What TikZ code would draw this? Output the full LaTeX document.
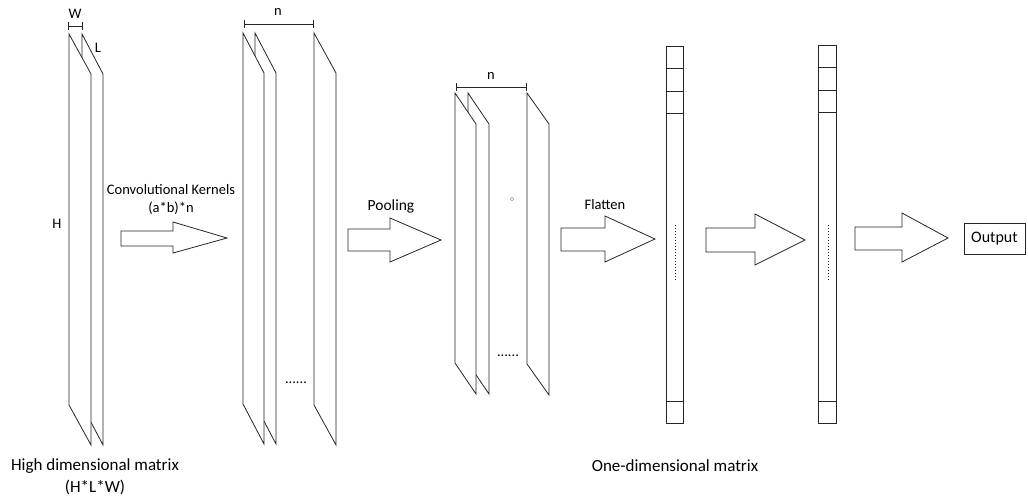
\documentclass[tikz,border=0pt]{standalone}
\usepackage{fontspec}
\setmainfont{Carlito}
\newcommand\myslab[5]{\draw[slab] (#1,#2) -- ++(#4,#5) -- ++(0,#3) -- ++(-#4,-#5) -- cycle;}
\newcommand\blockarrow[8]{\draw[barrow] (#1,#4) -- (#2,#4) -- (#2,#6) -- (#3,#8) -- (#2,#7) -- (#2,#5) -- (#1,#5) -- cycle;}
\begin{document}
\begin{tikzpicture}[x=1pt,y=-1pt,line width=0.8pt,
  slab/.style={draw=black!85,fill=white},
  barrow/.style={draw=black!85,fill=white},
  col/.style={draw=black!85,fill=white},
  lbl/.style={font=\fontsize{14.5}{17}\selectfont,inner sep=0pt,text=black},
  blbl/.style={font=\fontsize{17}{20}\selectfont,inner sep=0pt,text=black},
  brk/.style={draw=black!85,line width=0.9pt}]
\useasboundingbox (0,0) rectangle (1028,496);
% group 1
\myslab{82}{34}{371}{21}{40}
\myslab{69}{34}{371}{22}{40}
\draw[brk] (68,26) -- (82,26) (68,22) -- (68,30) (82,22) -- (82,30);
\node[lbl] (w) at (75,14) {W};
\node[lbl] (l) at (98,48) {L};
\node[lbl] (h) at (57,224) {H};
% group 2
\myslab{255}{33}{371}{21}{40}
\myslab{243}{33}{371}{21}{40}
\myslab{314}{33}{372}{22}{40}
\draw[brk] (244,24) -- (313,24) (244,20) -- (244,28) (313,20) -- (313,28);
\node[lbl] (n1) at (278,12) {n};
\node[lbl] (d1) at (296,383) {......};
% group 3
\myslab{468}{93}{270}{21}{31}
\myslab{455}{93}{270}{21}{31}
\myslab{527}{93}{271}{22}{31}
\draw[brk] (456,87) -- (526,87) (456,83) -- (456,91) (526,83) -- (526,91);
\node[lbl] (n2) at (491,76) {n};
\node[lbl] (d2) at (508,356) {......};
\draw[black!40,line width=0.5pt] (512,199) circle (1.8);
% column 1
\draw[col] (666,46) rectangle (683,423);
\draw[black!85] (666,68) -- (683,68) (666,91) -- (683,91) (666,113) -- (683,113) (666,401) -- (683,401);
\draw[black!85,line width=1pt,dash pattern=on 1pt off 2pt] (675,225) -- (675,280);
% column 2
\draw[col] (818,45) rectangle (836,423);
\draw[black!85] (818,67) -- (836,67) (818,90) -- (836,90) (818,112) -- (836,112) (818,401) -- (836,401);
\draw[black!85,line width=1pt,dash pattern=on 1pt off 2pt] (828,225) -- (828,280);
% arrows
\blockarrow{121}{173}{227}{231}{246}{222}{253}{238}
\blockarrow{348}{390}{441}{229}{251}{218}{262}{240}
\blockarrow{561}{605}{655}{228}{251}{216}{262}{239}
\blockarrow{706}{755}{805}{228}{252}{214}{265}{240}
\blockarrow{855}{902}{948}{227}{250}{213}{262}{238}
% labels
\node[lbl] (ck) at (171,190) {Convolutional Kernels};
\node[lbl] (ab) at (171,208) {(a*b)*n};
\node[lbl,font=\fontsize{15.5}{18}\selectfont] (pool) at (391,206) {Pooling};
\node[lbl] (flat) at (605,205) {Flatten};
\node[draw=black!85,minimum width=61pt,minimum height=31pt,inner sep=0pt,font=\fontsize{16}{19}\selectfont] (out) at (994.5,238.5) {Output};
\node[blbl] (hd) at (95,466) {High dimensional matrix};
\node[blbl] (hlw) at (95,487) {(H*L*W)};
\node[blbl] (od) at (675,466) {One-dimensional matrix};
\end{tikzpicture}
\end{document}
